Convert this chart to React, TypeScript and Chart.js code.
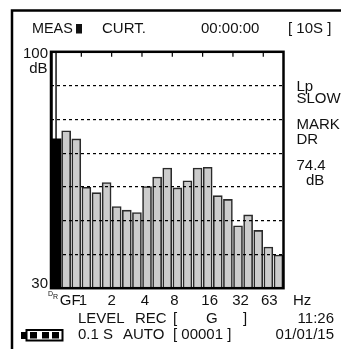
import React, { useEffect, useRef } from "react";
import { Chart, registerables } from "chart.js";

Chart.register(...registerables);

const levels = [76.6, 74.2, 59.9, 58.3, 61.3, 54.2, 53.1, 52.4, 60.1, 62.9, 65.6, 59.7, 61.8, 65.6, 65.8, 57.4, 56.3, 48.5, 51.7, 47.1, 42.2, 39.8];
const meterLevel = [74.2];
const peakLevel = [100];
const tickSlots = [3, 6, 9, 12, 15, 18, 21];
const xLabels = ["GF", "1", "2", "4", "8", "16", "32", "63"];
const xLabelSlots = [1.9, 3.16, 6.0, 9.3, 12.2, 15.7, 18.75, 21.6];
const yLabels = ["100", "30"];
const yLabelValues = [99.4, 31.2];
const headerTexts = ["MEAS", "CURT.", "00:00:00", "[ 10S ]"];
const sideTexts = ["Lp", "SLOW", "MARK", "DR", "74.4", "dB"];
const footerTexts = ["Hz", "LEVEL", "REC", "[", "G", "]", "11:26", "0.1 S", "AUTO", "[ 00001 ]", "01/01/15"];

const FONT = '"Liberation Sans", Arial, sans-serif';

const overlay = {
  id: "overlay",
  afterDraw(chart: any) {
    const c = chart.ctx;
    const { left, right, top, bottom } = chart.chartArea;
    const xs = chart.scales.x;
    c.save();
    c.strokeStyle = "#000";
    c.lineWidth = 2.5;
    c.beginPath();
    c.moveTo(12, 349);
    c.lineTo(12, 10.5);
    c.lineTo(341, 10.5);
    c.stroke();
    c.strokeRect(left, top, right - left, bottom - top);
    c.lineWidth = 1.2;
    c.beginPath();
    tickSlots.forEach((s) => {
      const x = xs.getPixelForValue(s);
      c.moveTo(x, top);
      c.lineTo(x, top + 5);
    });
    c.stroke();
    c.fillStyle = "#111";
    c.textBaseline = "alphabetic";
    const t = (s: string, x: number, y: number, a: CanvasTextAlign = "left") => {
      c.textAlign = a;
      c.fillText(s, x, y);
    };
    c.font = `14.4px ${FONT}`;
    t(headerTexts[0], 32, 33);
    c.fillRect(76, 24, 6, 9.5);
    c.font = `15px ${FONT}`;
    t(headerTexts[1], 102, 33);
    t(headerTexts[2], 201, 33);
    t(headerTexts[3], 288, 33);
    t("dB", 47.5, 73, "right");
    t(sideTexts[0], 296.5, 91);
    t(sideTexts[1], 296.5, 103);
    t(sideTexts[2], 296.5, 129);
    t(sideTexts[3], 296.5, 144);
    t(sideTexts[4], 296.5, 170);
    t(sideTexts[5], 306, 185);
    t(footerTexts[0], 293, 305);
    t(footerTexts[1], 78, 323);
    t(footerTexts[2], 135, 323);
    t(footerTexts[3], 173, 323);
    t(footerTexts[4], 206, 323);
    t(footerTexts[5], 243, 323);
    t(footerTexts[6], 334, 323, "right");
    t(footerTexts[7], 78, 339);
    t(footerTexts[8], 123, 339);
    t(footerTexts[9], 173, 339);
    t(footerTexts[10], 334, 339, "right");
    c.font = `7px ${FONT}`;
    t("D", 48, 296);
    t("R", 53, 299);
    c.fillStyle = "#000";
    c.fillRect(21, 332, 5, 7);
    c.lineWidth = 2;
    c.strokeRect(26.5, 330, 36, 10.5);
    [30, 42, 52].forEach((x) => c.fillRect(x, 332, 7, 6.5));
    c.restore();
  },
};

export default function App() {
  const ref = useRef<HTMLCanvasElement>(null);
  useEffect(() => {
    document.body.style.margin = "0";
    const chart = new Chart(ref.current as HTMLCanvasElement, {
      type: "bar",
      data: {
        datasets: [
          {
            data: levels.map((y, i) => ({ x: i + 1.5, y })),
            backgroundColor: "#cccccc",
            borderColor: "#2a2a2a",
            borderWidth: 1.6,
            barThickness: 9,
            yAxisID: "y",
          },
          {
            data: meterLevel.map((y) => ({ x: 0.5, y })),
            backgroundColor: "#000",
            borderWidth: 0,
            barThickness: 10,
            order: 1,
            yAxisID: "y",
          },
          {
            data: peakLevel.map((y) => ({ x: 0.3, y })),
            backgroundColor: "#fff",
            borderColor: "#000",
            borderWidth: 1.5,
            barThickness: 5,
            order: 2,
            yAxisID: "y",
          },
        ],
      } as any,
      options: {
        animation: false,
        responsive: false,
        layout: { padding: { left: 0, right: 57.5, top: 51.8, bottom: 0 } },
        plugins: { legend: { display: false }, tooltip: { enabled: false } },
        datasets: { bar: { grouped: false } },
        scales: {
          x: {
            type: "linear",
            offset: false,
            min: 0,
            max: 23,
            grid: { display: false, drawTicks: false },
            border: { display: false },
            afterBuildTicks: (s: any) => {
              s.ticks = xLabelSlots.map((value) => ({ value }));
            },
            afterFit: (s: any) => {
              s.height = 60.8;
            },
            ticks: {
              autoSkip: false,
              maxRotation: 0,
              padding: 4,
              color: "#111",
              font: { family: FONT, size: 15 },
              callback: (v: any) => xLabels[xLabelSlots.indexOf(Number(v))] ?? "",
            },
          },
          y: {
            min: 30,
            max: 100,
            afterFit: (s: any) => {
              s.width = 0;
            },
            border: { display: false, dash: [3, 3] },
            grid: {
              z: 1,
              color: (ctx: any) => (ctx.tick.value > 30 && ctx.tick.value < 100 ? "#000" : "transparent"),
              lineWidth: 1.2,
              drawTicks: false,
            },
            ticks: { stepSize: 10, display: false },
          },
          yLabels: {
            position: "left",
            min: 30,
            max: 100,
            afterBuildTicks: (s: any) => {
              s.ticks = yLabelValues.map((value) => ({ value }));
            },
            afterFit: (s: any) => {
              s.width = 51;
            },
            border: { display: false },
            grid: { display: false, drawTicks: false },
            ticks: {
              padding: 3,
              color: "#111",
              autoSkip: false,
              font: { family: FONT, size: 15 },
              callback: (v: any) => yLabels[yLabelValues.indexOf(Number(v))] ?? "",
            },
          },
        },
      } as any,
      plugins: [overlay],
    });
    return () => chart.destroy();
  }, []);
  return <canvas ref={ref} width={341} height={349} style={{ display: "block" }} />;
}
